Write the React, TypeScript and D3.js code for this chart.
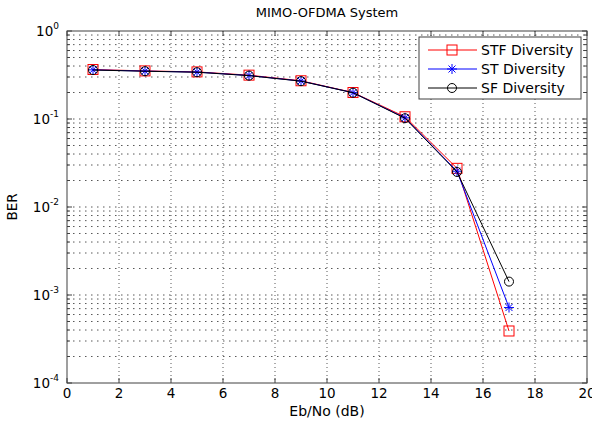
import React from "react";
import * as d3 from "d3";

const ebNo = [1, 3, 5, 7, 9, 11, 13, 15, 17];
const stfBer = [0.365, 0.352, 0.343, 0.315, 0.272, 0.2, 0.106, 0.0275, 0.00039];
const stBer = [0.362, 0.35, 0.341, 0.312, 0.27, 0.199, 0.103, 0.0255, 0.00072];
const sfBer = [0.36, 0.349, 0.34, 0.311, 0.269, 0.199, 0.102, 0.025, 0.00142];
const xTicks = [0, 2, 4, 6, 8, 10, 12, 14, 16, 18, 20];
const yExponents = [0, -1, -2, -3, -4];

const series = [
  { name: "STF Diversity", values: stfBer, color: "#ff0000", marker: "square" },
  { name: "ST Diversity", values: stBer, color: "#0000ff", marker: "star" },
  { name: "SF Diversity", values: sfBer, color: "#000000", marker: "circle" },
];

const W = 592, H = 421;
const margin = { top: 31, right: 5, bottom: 38, left: 67 };
const font = "'DejaVu Sans', Verdana, sans-serif";

const Marker = ({ type, x, y, color }) => {
  if (type === "square")
    return <rect x={x - 5} y={y - 5} width={10} height={10} fill="none" stroke={color} strokeWidth={1} />;
  if (type === "circle")
    return <circle cx={x} cy={y} r={4.5} fill="none" stroke={color} strokeWidth={1} />;
  const s = 5;
  return (
    <g stroke={color} strokeWidth={1}>
      <line x1={x - s} y1={y} x2={x + s} y2={y} />
      <line x1={x} y1={y - s} x2={x} y2={y + s} />
      <line x1={x - s * 0.7} y1={y - s * 0.7} x2={x + s * 0.7} y2={y + s * 0.7} />
      <line x1={x - s * 0.7} y1={y + s * 0.7} x2={x + s * 0.7} y2={y - s * 0.7} />
    </g>
  );
};

const App = () => {
  const x = d3.scaleLinear().domain([0, 20]).range([margin.left, W - margin.right]);
  const y = d3.scaleLog().domain([1e-4, 1]).range([H - margin.bottom, margin.top]);
  const [x0, x1] = x.range();
  const [yb, yt] = y.range();

  // minor values 2..9 in each decade
  const minor = [];
  for (let e = -4; e < 0; e++) for (let m = 2; m <= 9; m++) minor.push(m * Math.pow(10, e));
  const majors = yExponents.map((e) => Math.pow(10, e));

  const line = d3.line<number>()
    .x((_, i) => x(ebNo[i]))
    .y((d) => y(d));

  const axisColor = "#404040";
  const lg = { x: 419, y: 37, w: 162, h: 62 };

  return (
    <svg width={W} height={H} style={{ position: "absolute", left: 0, top: 0, background: "#fff" }} fontFamily={font}>
      <rect x={x0} y={yt} width={x1 - x0} height={yb - yt} fill="#fff" />
      {/* grid */}
      <g stroke="#000" strokeWidth={1} opacity={0.65}>
        {xTicks.slice(1, -1).map((t) => (
          <line key={"gx" + t} x1={x(t)} x2={x(t)} y1={yt} y2={yb} strokeDasharray="1,3" />
        ))}
        {minor.concat(majors.slice(1, -1)).map((v, i) => (
          <line key={"gy" + i} x1={x0} x2={x1} y1={y(v)} y2={y(v)} strokeDasharray="1.5,4.5" />
        ))}
      </g>
      {/* ticks */}
      <g stroke={axisColor} strokeWidth={1}>
        {xTicks.map((t) => (
          <g key={"tx" + t}>
            <line x1={x(t)} x2={x(t)} y1={yb} y2={yb - 5} />
            <line x1={x(t)} x2={x(t)} y1={yt} y2={yt + 5} />
          </g>
        ))}
        {majors.map((v, i) => (
          <g key={"ty" + i}>
            <line x1={x0} x2={x0 + 5} y1={y(v)} y2={y(v)} />
            <line x1={x1} x2={x1 - 5} y1={y(v)} y2={y(v)} />
          </g>
        ))}
        {minor.map((v, i) => (
          <g key={"tm" + i}>
            <line x1={x0} x2={x0 + 3} y1={y(v)} y2={y(v)} />
            <line x1={x1} x2={x1 - 3} y1={y(v)} y2={y(v)} />
          </g>
        ))}
      </g>
      <rect x={x0} y={yt} width={x1 - x0} height={yb - yt} fill="none" stroke={axisColor} strokeWidth={1} />
      {/* tick labels */}
      <g fontSize={13.5} fill="#000">
        {xTicks.map((t) => (
          <text key={"lx" + t} x={x(t)} y={yb + 15} textAnchor="middle">{t}</text>
        ))}
        {yExponents.map((e) => (
          <text key={"ly" + e} x={x0 - 8} y={y(Math.pow(10, e)) + 5} textAnchor="end">
            10<tspan dy={-7} fontSize={9}>{e}</tspan>
          </text>
        ))}
      </g>
      {/* series */}
      {series.map((s) => (
        <g key={s.name}>
          <path d={line(s.values)} fill="none" stroke={s.color} strokeWidth={1} />
          {s.values.map((v, i) => (
            <Marker key={i} type={s.marker} x={x(ebNo[i])} y={y(v)} color={s.color} />
          ))}
        </g>
      ))}
      {/* legend */}
      <g>
        <rect x={lg.x} y={lg.y} width={lg.w} height={lg.h} fill="#fff" stroke={axisColor} strokeWidth={1} />
        {series.map((s, i) => {
          const ly = lg.y + 13 + i * 19;
          return (
            <g key={"lg" + s.name}>
              <line x1={lg.x + 9} x2={lg.x + 58} y1={ly} y2={ly} stroke={s.color} strokeWidth={1} />
              <Marker type={s.marker} x={lg.x + 33} y={ly} color={s.color} />
              <text x={lg.x + 62} y={ly + 5} fontSize={14}>{s.name}</text>
            </g>
          );
        })}
      </g>
      {/* titles */}
      <text x={(x0 + x1) / 2} y={17} textAnchor="middle" fontSize={13}>MIMO-OFDMA System</text>
      <text x={(x0 + x1) / 2} y={416} textAnchor="middle" fontSize={14}>Eb/No (dB)</text>
      <text transform={`translate(17,${(yt + yb) / 2}) rotate(-90)`} textAnchor="middle" fontSize={13.5}>BER</text>
    </svg>
  );
};

export default App;
